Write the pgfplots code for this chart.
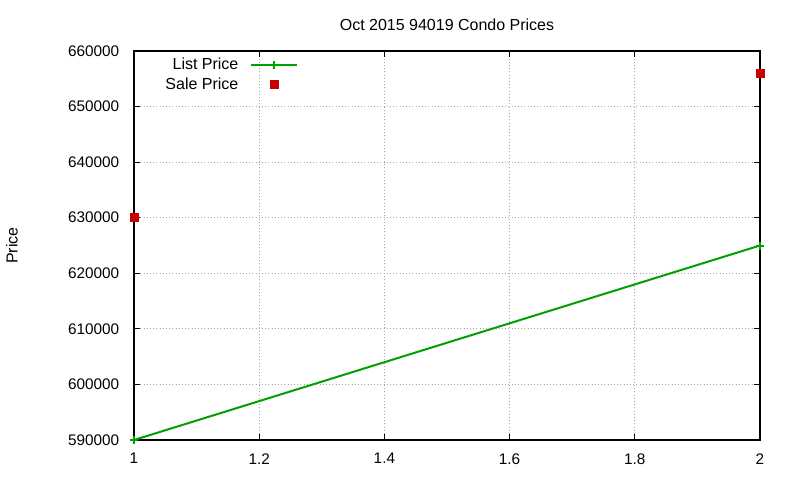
\documentclass[border=0pt]{standalone}
\usepackage{pgfplots}
\pgfplotsset{compat=1.18}
\usepackage{fontspec}
\setmainfont{Liberation Sans}
\definecolor{lgreen}{RGB}{0,160,0}
\definecolor{sred}{RGB}{200,0,0}
\pgfplotsset{
  listleg/.style={legend image code/.code={\draw[mark repeat=2,mark phase=2,##1,line width=1.5pt] plot coordinates {(0pt,0pt)(17pt,0pt)(34pt,0pt)};}},
  saleleg/.style={legend image code/.code={\draw[##1] plot coordinates {(17pt,0pt)};}},
}
\begin{document}
\begin{tikzpicture}[x=0.75pt,y=0.75pt]
\path[use as bounding box] (-134,-40) rectangle (666,440);
\begin{axis}[
  at={(0,0)}, anchor=south west,
  scale only axis,
  width=469.5pt, height=291.75pt,
  xmin=1, xmax=2, ymin=590000, ymax=660000,
  xtick={1,1.2,1.4,1.6,1.8,2},
  ytick={590000,600000,610000,620000,630000,640000,650000,660000},
  scaled ticks=false,
  /pgf/number format/assume math mode=true,
  xticklabel style={yshift=-6.5pt,/pgf/number format/.cd,fixed,precision=1},
  yticklabel style={xshift=-7.5pt,/pgf/number format/.cd,fixed,1000 sep={}},
  tick align=inside,
  tick pos=both,
  major tick length=4.5pt,
  tick style={black, line width=0.6pt},
  grid=major,
  major grid style={gray!70, dotted, line width=0.6pt},
  axis line style={black, line width=0.8pt},
  font=\fontsize{11.5pt}{13pt}\selectfont,
  title={Oct 2015 94019 Condo Prices},
  title style={at={(0.5,1)}, anchor=center, yshift=13.5pt, font=\fontsize{12pt}{14pt}\selectfont},
  ylabel={Price},
  ylabel style={at={(rel axis cs:0,0.5)}, anchor=center, xshift=0pt, yshift=91.5pt, font=\fontsize{12pt}{14pt}\selectfont},
  legend style={at={(0.262,0.99)}, anchor=north east, draw=none, fill=none,
    inner sep=0pt, cells={anchor=east}, legend plot pos=right, row sep=0.5pt,
    /tikz/every odd column/.append style={column sep=7pt},
    font=\fontsize{12pt}{14pt}\selectfont},
  clip=false,
]
\addplot[color=lgreen, line width=1.5pt, mark=+, mark size=3pt, listleg]
  coordinates {(1,590000) (2,625000)};
\addlegendentry{List Price}
\addplot[only marks, color=sred, mark=square*, mark size=3pt, saleleg]
  coordinates {(1,630000) (2,656000)};
\addlegendentry{Sale Price}
\end{axis}
\end{tikzpicture}
\end{document}
